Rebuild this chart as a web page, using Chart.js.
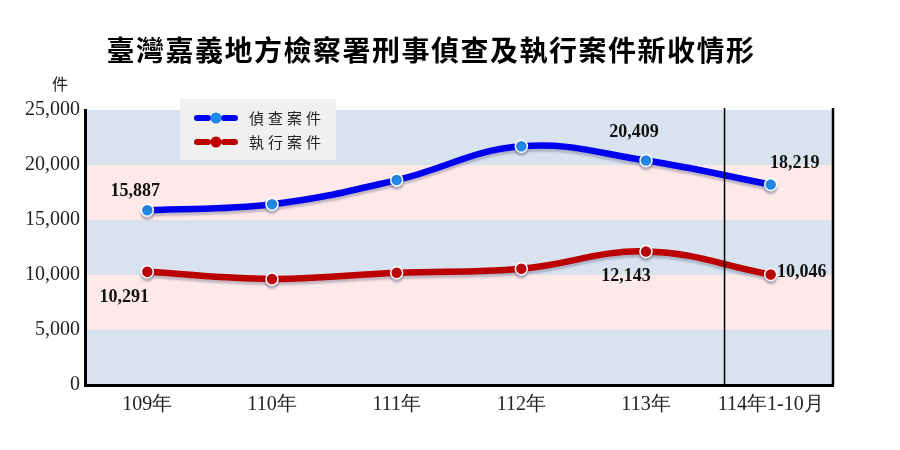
<!DOCTYPE html>
<html>
<head>
<meta charset="utf-8">
<script src="https://cdn.jsdelivr.net/npm/chart.js@4.4.1/dist/chart.umd.min.js"></script>
<style>
  html, body { margin: 0; padding: 0; background: #fff; }
  #wrap { width: 900px; height: 450px; }
</style>
</head>
<body>
<div id="wrap"><canvas id="lineChart"></canvas></div>
<script>
var chartTitle = "臺灣嘉義地方檢察署刑事偵查及執行案件新收情形";
var unitLabel = "件";
var years = ["109年", "110年", "111年", "112年", "113年", "114年1-10月"];
var seriesNames = ["偵查案件", "執行案件"];
var investigation = [15887, 16430, 18630, 21700, 20409, 18219];
var execution = [10291, 9640, 10200, 10570, 12143, 10046];
var yTicks = [0, 5000, 10000, 15000, 20000, 25000];
var labeledPoints = [0, 4, 5];

// divider between 113 and 114 (partial year)
var dividerAt = 4.63;

var serif = "'Liberation Serif', 'DejaVu Serif', serif";
var cjk = "'Noto Sans CJK TC', 'Noto Sans CJK SC', sans-serif";

var bandColors = ["#d8e3ef", "#fde9e9"];
var blueLine = "#0000f0", bluePoint = "#1e8ae8";
var redLine = "#bb0000", redPoint = "#c00000";

// label offsets from the point: [dx, dy]
var labelOffsets = [
    [[-12, -19], null, null, null, [-12, -28], [24, -21]],
    [[-23, 26], null, null, null, [-20, 25], [31, -2]]
];

function fmt(v) {
    return v.toLocaleString("en-US");
}

// background stripes, frame lines, title, legend, labels
var decorPlugin = {
    id: "decor",
    beforeDraw: function (chart) {
        var ctx = chart.ctx, a = chart.chartArea, y = chart.scales.y;
        ctx.save();
        for (var i = 0; i < yTicks.length - 1; i++) {
            var top = y.getPixelForValue(yTicks[i + 1]);
            var bot = y.getPixelForValue(yTicks[i]);
            ctx.fillStyle = bandColors[i % 2];
            ctx.fillRect(a.left, top, a.right - a.left, bot - top);
        }
        ctx.restore();
    },
    beforeDatasetDraw: function (chart) {
        var ctx = chart.ctx;
        ctx.save();
        ctx.shadowColor = "rgba(90, 90, 120, 0.35)";
        ctx.shadowOffsetY = 3;
        ctx.shadowBlur = 2;
    },
    afterDatasetDraw: function (chart) {
        chart.ctx.restore();
    },
    afterDraw: function (chart) {
        var ctx = chart.ctx, a = chart.chartArea, x = chart.scales.x;
        ctx.save();

        // right frame and divider
        ctx.strokeStyle = "#000";
        ctx.lineWidth = 2.5;
        ctx.beginPath();
        ctx.moveTo(a.right, a.top - 2);
        ctx.lineTo(a.right, a.bottom);
        ctx.stroke();
        var dx = x.getPixelForValue(dividerAt);
        ctx.lineWidth = 1.5;
        ctx.beginPath();
        ctx.moveTo(dx, a.top - 2);
        ctx.lineTo(dx, a.bottom);
        ctx.stroke();

        // title
        ctx.fillStyle = "#000";
        ctx.font = "bold 28px " + cjk;
        ctx.textAlign = "center";
        ctx.textBaseline = "middle";
        ctx.letterSpacing = "1.5px";
        ctx.fillText(chartTitle, 431, 50);
        ctx.letterSpacing = "0px";

        // unit
        ctx.font = "16px " + cjk;
        ctx.fillStyle = "#222";
        ctx.fillText(unitLabel, 60, 84);

        // legend
        ctx.fillStyle = "#f0f0f0";
        ctx.fillRect(180, 99, 156, 61);
        var items = [[blueLine, bluePoint], [redLine, redPoint]];
        for (var i = 0; i < items.length; i++) {
            var ly = 118 + i * 24;
            ctx.strokeStyle = items[i][0];
            ctx.lineWidth = 6;
            ctx.lineCap = "round";
            ctx.beginPath();
            ctx.moveTo(197, ly);
            ctx.lineTo(208, ly);
            ctx.moveTo(224, ly);
            ctx.lineTo(235, ly);
            ctx.stroke();
            ctx.fillStyle = items[i][1];
            ctx.beginPath();
            ctx.arc(216, ly, 5.5, 0, Math.PI * 2);
            ctx.fill();
            ctx.fillStyle = "#222";
            ctx.font = "15px " + cjk;
            ctx.textAlign = "left";
            ctx.letterSpacing = "4px";
            ctx.fillText(seriesNames[i], 249, ly);
            ctx.letterSpacing = "0px";
        }

        // value labels
        ctx.font = "bold 18px " + serif;
        ctx.fillStyle = "#111";
        ctx.textAlign = "center";
        ctx.textBaseline = "middle";
        chart.data.datasets.forEach(function (ds, di) {
            var meta = chart.getDatasetMeta(di);
            labeledPoints.forEach(function (idx) {
                var off = labelOffsets[di][idx];
                var p = meta.data[idx];
                ctx.fillText(fmt(ds.data[idx]), p.x + off[0], p.y + off[1]);
            });
        });
        ctx.restore();
    }
};

var ctx_line = document.getElementById("lineChart");

var data = {
    labels: years,
    datasets: [
        {
            label: seriesNames[0],
            data: investigation,
            borderColor: blueLine,
            backgroundColor: bluePoint,
            borderWidth: 6.5,
            tension: 0.4,
            pointRadius: 6,
            pointBackgroundColor: bluePoint,
            pointBorderColor: "#fff",
            pointBorderWidth: 1.5,
            fill: false
        },
        {
            label: seriesNames[1],
            data: execution,
            borderColor: redLine,
            backgroundColor: redPoint,
            borderWidth: 6.5,
            tension: 0.4,
            pointRadius: 6,
            pointBackgroundColor: redPoint,
            pointBorderColor: "#fff",
            pointBorderWidth: 1.5,
            fill: false
        }
    ]
};

var myLineChart = new Chart(ctx_line, {
    type: "line",
    data: data,
    plugins: [decorPlugin],
    options: {
        responsive: true,
        maintainAspectRatio: false,
        animation: false,
        layout: { padding: { top: 110, right: 67, bottom: 0, left: 0 } },
        plugins: {
            legend: { display: false },
            title: { display: false },
            tooltip: { enabled: false }
        },
        scales: {
            x: {
                offset: true,
                grid: { display: false, drawTicks: false },
                border: { display: true, color: "#000", width: 3 },
                ticks: {
                    color: "#222",
                    padding: 8,
                    font: { family: serif, size: 20 }
                },
                afterFit: function (s) { s.height = 65; }
            },
            y: {
                min: 0,
                max: 25000,
                grid: { display: false, drawTicks: false },
                border: { display: true, color: "#000", width: 3 },
                ticks: {
                    stepSize: 5000,
                    color: "#222",
                    padding: 5,
                    font: { family: serif, size: 20 },
                    callback: function (v) { return fmt(v); }
                },
                afterFit: function (s) { s.width = 85; }
            }
        }
    }
});
</script>
</body>
</html>
